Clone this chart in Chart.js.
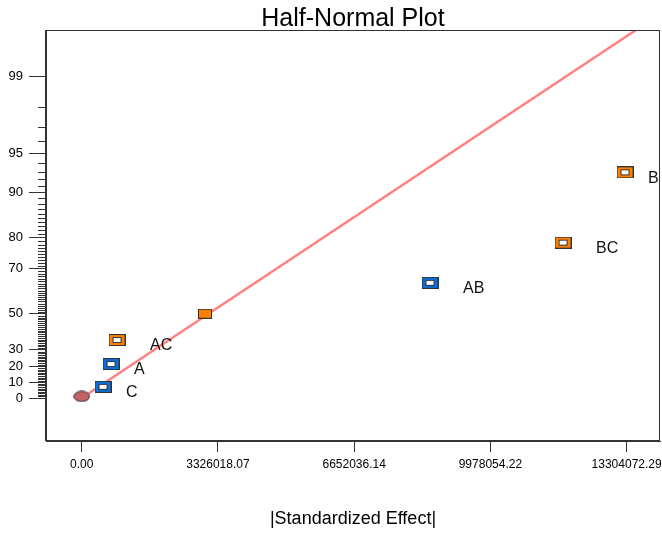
<!DOCTYPE html>
<html>
<head>
<meta charset="utf-8">
<script src="https://cdn.jsdelivr.net/npm/chart.js@4.4.0/dist/chart.umd.min.js"></script>
<style>
  html, body { margin: 0; padding: 0; background: #fff; overflow: hidden; }
  canvas { display: block; }
</style>
</head>
<body>
<canvas id="chart" width="662" height="533"></canvas>
<script>
// values: x = |standardized effect|, y = half-normal % probability
const errorX = [0];
const errorPct = [1];

const negTerms = ['C', 'A', 'AB'];
const negX = [520000, 715000, 8504000];
const negPct = [7.1, 21.4, 64.3];

const posTerms = ['AC', 'BC', 'B'];
const posX = [862000, 11751000, 13265000];
const posPct = [35.7, 78.6, 92.9];

const otherX = [3010000];
const otherPct = [50];

const lineX = [0, 13533000];
const linePct = [0, 99.676];

const xTicks = [0, 3326018.07, 6652036.14, 9978054.22, 13304072.29];
const yTickPct = [0, 10, 20, 30, 50, 70, 80, 90, 95, 99];

const FONT = "Arial, 'Liberation Sans', sans-serif";

// inverse normal cdf (Acklam)
function probit(p) {
    const a = [-3.969683028665376e+01, 2.209460984245205e+02, -2.759285104469687e+02, 1.383577518672690e+02, -3.066479806614716e+01, 2.506628277459239e+00];
    const b = [-5.447609879822406e+01, 1.615858368580409e+02, -1.556989798598866e+02, 6.680131188771972e+01, -1.328068155288572e+01];
    const c = [-7.784894002430293e-03, -3.223964580411365e-01, -2.400758277161838e+00, -2.549732539343734e+00, 4.374664141464968e+00, 2.938163982698783e+00];
    const d = [7.784695709041462e-03, 3.224671290700398e-01, 2.445134137142996e+00, 3.754408661907416e+00];
    const pl = 0.02425;
    let q, r;
    if (p < pl) {
        q = Math.sqrt(-2 * Math.log(p));
        return (((((c[0]*q+c[1])*q+c[2])*q+c[3])*q+c[4])*q+c[5]) / ((((d[0]*q+d[1])*q+d[2])*q+d[3])*q+1);
    }
    if (p <= 1 - pl) {
        q = p - 0.5; r = q * q;
        return (((((a[0]*r+a[1])*r+a[2])*r+a[3])*r+a[4])*r+a[5])*q / (((((b[0]*r+b[1])*r+b[2])*r+b[3])*r+b[4])*r+1);
    }
    q = Math.sqrt(-2 * Math.log(1 - p));
    return -(((((c[0]*q+c[1])*q+c[2])*q+c[3])*q+c[4])*q+c[5]) / ((((d[0]*q+d[1])*q+d[2])*q+d[3])*q+1);
}
const halfNormal = pct => pct <= 0 ? 0 : probit(0.5 + pct / 200);

const toPoints = (xs, ps) => xs.map((x, i) => ({ x: x, y: halfNormal(ps[i]) }));

// marker images
function boxMarker(color) {
    const cv = document.createElement('canvas');
    cv.width = 17; cv.height = 12;
    const c = cv.getContext('2d');
    c.fillStyle = '#333';
    c.fillRect(0, 0, 17, 12);
    c.fillStyle = color;
    c.fillRect(1, 1, 15, 10);
    c.fillStyle = '#333';
    c.fillRect(4, 3, 9, 6);
    c.fillStyle = '#fff';
    c.fillRect(5, 4, 7, 4);
    return cv;
}
function filledMarker(color) {
    const cv = document.createElement('canvas');
    cv.width = 14; cv.height = 10;
    const c = cv.getContext('2d');
    c.fillStyle = '#333';
    c.fillRect(0, 0, 14, 10);
    c.fillStyle = color;
    c.fillRect(1, 1, 12, 8);
    return cv;
}
function ellipseMarker(color) {
    const cv = document.createElement('canvas');
    cv.width = 17; cv.height = 12;
    const c = cv.getContext('2d');
    c.beginPath();
    c.ellipse(8.5, 6, 7.8, 5.2, 0, 0, Math.PI * 2);
    c.fillStyle = color;
    c.fill();
    c.lineWidth = 1;
    c.strokeStyle = '#333';
    c.stroke();
    return cv;
}

const minorTicks = {
    id: 'minorTicks',
    afterDraw(chart) {
        const y = chart.scales.y;
        const ctx = chart.ctx;
        const left = chart.chartArea.left;
        ctx.save();
        ctx.strokeStyle = '#333';
        ctx.lineWidth = 1;
        ctx.beginPath();
        for (let p = 1; p < 100; p++) {
            if (yTickPct.includes(p)) continue;
            const py = Math.round(y.getPixelForValue(halfNormal(p))) + 0.5;
            ctx.moveTo(left - 8, py);
            ctx.lineTo(left, py);
        }
        ctx.stroke();
        ctx.restore();
    }
};

const frame = {
    id: 'frame',
    afterDraw(chart) {
        const a = chart.chartArea;
        const ctx = chart.ctx;
        ctx.save();
        ctx.strokeStyle = '#333';
        ctx.lineWidth = 1;
        ctx.strokeRect(Math.round(a.left) - 0.5, Math.round(a.top) + 0.5, Math.round(a.right - a.left), Math.round(a.bottom - a.top) - 1);
        ctx.restore();
    }
};

// main title, centred over the plot box
const plotTitle = {
    id: 'plotTitle',
    afterDraw(chart) {
        const a = chart.chartArea;
        const ctx = chart.ctx;
        ctx.save();
        ctx.font = '25px ' + FONT;
        ctx.fillStyle = '#000';
        ctx.textAlign = 'center';
        ctx.textBaseline = 'alphabetic';
        ctx.fillText('Half-Normal Plot', (a.left + a.right) / 2, 26);
        ctx.restore();
    }
};

const termLabels = {
    id: 'termLabels',
    afterDatasetsDraw(chart) {
        const ctx = chart.ctx;
        const a = chart.chartArea;
        ctx.save();
        ctx.beginPath();
        ctx.rect(a.left, a.top, a.right - a.left, a.bottom - a.top);
        ctx.clip();
        ctx.font = '16px ' + FONT;
        ctx.fillStyle = '#111';
        ctx.textAlign = 'left';
        ctx.textBaseline = 'middle';
        chart.data.datasets.forEach((ds, di) => {
            if (!ds.terms) return;
            chart.getDatasetMeta(di).data.forEach((pt, i) => {
                const t = ds.terms[i];
                ctx.fillText(t, pt.x + 13 + 10 * t.length, pt.y + 6);
            });
        });
        ctx.restore();
    }
};

new Chart(document.getElementById('chart'), {
    type: 'scatter',
    data: {
        datasets: [
            {
                label: 'Error',
                data: toPoints(errorX, errorPct),
                pointStyle: ellipseMarker('#C26262'),
                pointRadius: 8
            },
            {
                label: 'Negative',
                data: toPoints(negX, negPct),
                terms: negTerms,
                pointStyle: boxMarker('#0A6FD8'),
                pointRadius: 8
            },
            {
                label: 'Positive',
                data: toPoints(posX, posPct),
                terms: posTerms,
                pointStyle: boxMarker('#FF8000'),
                pointRadius: 8
            },
            {
                label: 'Other',
                data: toPoints(otherX, otherPct),
                pointStyle: filledMarker('#FF8000'),
                pointRadius: 7
            },
            {
                label: 'Normal line',
                data: toPoints(lineX, linePct),
                showLine: true,
                borderColor: '#FF8080',
                borderWidth: 2.5,
                pointRadius: 0,
                pointHoverRadius: 0
            }
        ]
    },
    options: {
        responsive: false,
        animation: false,
        layout: { autoPadding: false, padding: { top: 30, right: 2, bottom: 0, left: 0 } },
        plugins: {
            legend: { display: false },
            tooltip: { enabled: false },
            title: { display: false }
        },
        scales: {
            x: {
                type: 'linear',
                min: -872000,
                max: 14119000,
                afterBuildTicks: scale => { scale.ticks = xTicks.map(v => ({ value: v })); },
                afterFit: scale => {
                    scale.height = 92;
                    scale.paddingLeft = 0;
                    scale.paddingRight = 0;
                },
                ticks: {
                    color: '#000',
                    font: { family: FONT, size: 12 },
                    padding: 5,
                    maxRotation: 0,
                    callback: v => v.toFixed(2)
                },
                grid: { drawOnChartArea: false, tickLength: 11, color: '#333' },
                border: { color: '#333' },
                title: {
                    display: true,
                    text: '|Standardized Effect|',
                    color: '#000',
                    font: { family: FONT, size: 18 },
                    padding: { top: 38, bottom: 3 }
                }
            },
            y: {
                type: 'linear',
                min: -0.344,
                max: 2.944,
                afterBuildTicks: scale => { scale.ticks = yTickPct.map(p => ({ value: halfNormal(p) })); },
                afterFit: scale => {
                    scale.width = 46;
                    scale.paddingTop = 0;
                    scale.paddingBottom = 0;
                },
                ticks: {
                    color: '#000',
                    font: { family: FONT, size: 13 },
                    padding: 6,
                    callback: (v, i) => yTickPct[i]
                },
                grid: { drawOnChartArea: false, tickLength: 17, color: '#333' },
                border: { color: '#333' }
            }
        }
    },
    plugins: [minorTicks, frame, plotTitle, termLabels]
});
</script>
</body>
</html>
